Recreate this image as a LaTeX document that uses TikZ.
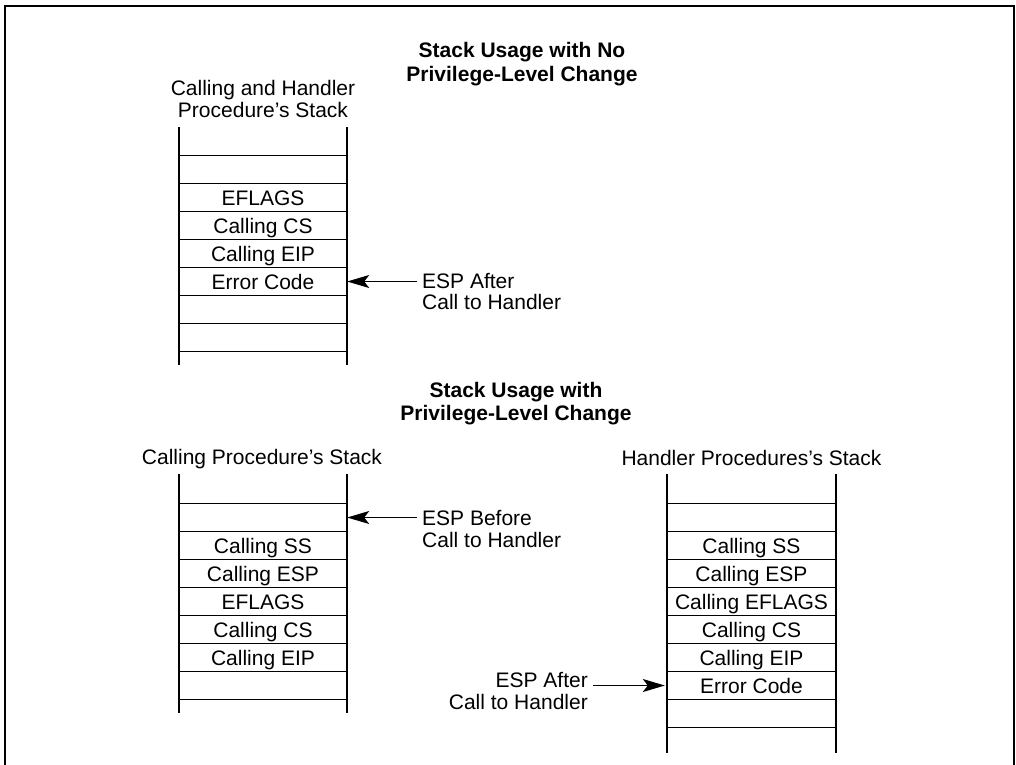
\documentclass[tikz,border=0pt]{standalone}
\usepackage{fontspec}
\setmainfont{Liberation Sans}
\usetikzlibrary{arrows.meta}
\begin{document}
\begin{tikzpicture}[x=1pt,y=-1pt,
  every node/.style={font=\fontsize{21}{22}\selectfont, inner sep=0pt},
  ttl/.style={font=\fontsize{21}{22}\selectfont\bfseries, anchor=base},
  hdr/.style={anchor=base},
  lblw/.style={anchor=base west, inner xsep=5pt, inner ysep=0pt, text height=15pt, text depth=0pt},
  lble/.style={anchor=base east, inner xsep=5pt, inner ysep=0pt, text height=15pt, text depth=0pt},
  cell/.style={minimum width=168pt, minimum height=28pt, inner sep=0pt, text height=15pt, text depth=0pt},
  wcell/.style={cell, minimum width=169pt},
  side/.style={line width=2.2pt},
  rowline/.style={line width=1.2pt},
  arr/.style={line width=1.2pt, -{Stealth[length=22pt,width=13pt,inset=5pt]}},
  frm/.style={line width=2.5pt}]
\useasboundingbox (0,0) rectangle (1016,764);
% frame (open at the bottom)
\draw[frm] (5,780) -- (5,6) -- (1014,6) -- (1014,780);

% ---------- titles ----------
\node[ttl] (t1a) at (522,57) {Stack Usage with No};
\node[ttl] (t1b) at (522,81) {Privilege-Level Change};
\node[ttl] (t2a) at (516,397) {Stack Usage with};
\node[ttl] (t2b) at (516,420) {Privilege-Level Change};

% ---------- stack 1 ----------
\node[hdr] (h1a) at (263,95) {Calling and Handler};
\node[hdr] (h1b) at (263,117) {Procedure’s Stack};
\node[cell] (a1) at (263,141.5) {};
\node[cell] (a2) at (263,169.5) {};
\node[cell] (a3) at (263,197.5) {EFLAGS};
\node[cell] (a4) at (263,225.5) {Calling CS};
\node[cell] (a5) at (263,253.5) {Calling EIP};
\node[cell] (a6) at (263,281.5) {Error Code};
\node[cell] (a7) at (263,309.5) {};
\node[cell] (a8) at (263,337.5) {};
\foreach \c in {a1,a2,a3,a4,a5,a6,a7,a8}
  \draw[rowline] (\c.south west) -- (\c.south east);
\draw[side] (179,127) -- (179,365);
\draw[side] (347,127) -- (347,365);
\node[lblw] (e1a) at (417,288) {ESP After};
\node[lblw] (e1b) at (417,309) {Call to Handler};
\draw[arr] (e1a.west |- a6.east) -- (a6.east);

% ---------- stack 2 ----------
\node[hdr] (h2) at (262,464) {Calling Procedure’s Stack};
\node[cell] (b1) at (263,489.5) {};
\node[cell] (b2) at (263,517.5) {};
\node[cell] (b3) at (263,545.5) {Calling SS};
\node[cell] (b4) at (263,573.5) {Calling ESP};
\node[cell] (b5) at (263,601.5) {EFLAGS};
\node[cell] (b6) at (263,629.5) {Calling CS};
\node[cell] (b7) at (263,657.5) {Calling EIP};
\node[cell] (b8) at (263,685.5) {};
\foreach \c in {b1,b2,b3,b4,b5,b6,b7,b8}
  \draw[rowline] (\c.south west) -- (\c.south east);
\draw[side] (179,474) -- (179,713);
\draw[side] (347,474) -- (347,713);
\node[lblw] (e2a) at (417,525.5) {ESP Before};
\node[lblw] (e2b) at (417,547) {Call to Handler};
\draw[arr] (e2a.west |- b2.east) -- (b2.east);

% ---------- stack 3 ----------
\node[hdr] (h3) at (751.5,465) {Handler Procedures’s Stack};
\node[wcell] (c1) at (751.5,489.5) {};
\node[wcell] (c2) at (751.5,517.5) {};
\node[wcell] (c3) at (751.5,545.5) {Calling SS};
\node[wcell] (c4) at (751.5,573.5) {Calling ESP};
\node[wcell] (c5) at (751.5,601.5) {Calling EFLAGS};
\node[wcell] (c6) at (751.5,629.5) {Calling CS};
\node[wcell] (c7) at (751.5,657.5) {Calling EIP};
\node[wcell] (c8) at (751.5,685.5) {Error Code};
\node[wcell] (c9) at (751.5,713.5) {};
\foreach \c in {c1,c2,c3,c4,c5,c6,c7,c8,c9}
  \draw[rowline] (\c.south west) -- (\c.south east);
\draw[side] (667,474) -- (667,753);
\draw[side] (836,474) -- (836,753);
\node[lble] (e3a) at (593,687) {ESP After};
\node[lble] (e3b) at (593,709) {Call to Handler};
\draw[arr, shorten >=2pt] (e3a.east |- c8.west) -- (c8.west);
\end{tikzpicture}
\end{document}
